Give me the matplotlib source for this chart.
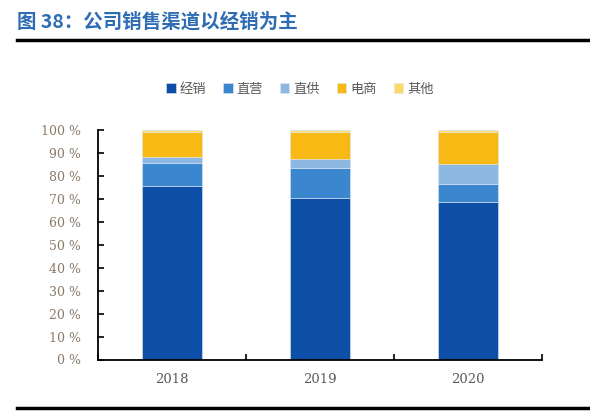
import matplotlib

matplotlib.use("Agg")
import matplotlib.pyplot as plt
import numpy as np

plt.rcParams["font.family"] = ["Noto Sans CJK SC", "DejaVu Sans"]

years = ["2018", "2019", "2020"]
channels = ["经销", "直营", "直供", "电商", "其他"]
jingxiao = [75.5, 70.4, 68.6]
zhiying = [10.1, 12.8, 7.8]
zhigong = [2.5, 4.0, 8.8]
dianshang = [10.8, 11.7, 13.7]
qita = [1.1, 1.1, 1.1]
series = [jingxiao, zhiying, zhigong, dianshang, qita]
colors = ["#0D4EA6", "#3A87D0", "#8DB8E2", "#F9B914", "#FFD966"]
yticks = list(range(0, 101, 10))

fig = plt.figure(figsize=(5.9, 4.16), dpi=100)
ax = fig.add_axes([98 / 590, 1 - 359.5 / 416, 444 / 590, 229.8 / 416])

x = np.arange(len(years))
bottom = np.zeros(len(years))
for name, vals, c in zip(channels, series, colors):
    ax.bar(x, vals, 0.41, bottom=bottom, color=c, label=name,
           edgecolor="#DCE6F2", linewidth=0.4)
    bottom += np.array(vals)

ax.set_xlim(-0.5, len(years) - 0.5)
ax.set_ylim(0, 100)
ax.set_yticks(yticks)
ax.set_yticklabels([f"{v} %" for v in yticks], family="DejaVu Serif",
                   fontsize=9, color="#8A7A6A")
ax.set_xticks(x)
ax.set_xticklabels(years, family="DejaVu Serif", fontsize=9.5, color="#595959")
ax.set_xticks(np.arange(-0.5, len(years)), minor=True)
ax.tick_params(axis="y", direction="in", length=4, width=1.2, pad=12)
ax.tick_params(axis="x", which="major", length=0, pad=10)
ax.tick_params(axis="x", which="minor", direction="in", length=4, width=1.2)
for s in ["top", "right"]:
    ax.spines[s].set_visible(False)
ax.spines["left"].set_linewidth(1.3)
ax.spines["bottom"].set_linewidth(1.3)

handles, labels = ax.get_legend_handles_labels()
fig.legend(handles, labels, loc="center", bbox_to_anchor=(300 / 590, 1 - 89 / 416),
           ncol=5, frameon=False, fontsize=9.5, handlelength=0.7, handleheight=0.7,
           handletextpad=0.3, columnspacing=1.3, labelcolor="#595959")

fig.text(17 / 590, 1 - 22 / 416, "图 38：公司销售渠道以经销为主", fontsize=14,
         fontweight="bold", color="#2E6DB4", va="center", ha="left")
fig.add_artist(plt.Line2D([17 / 590, 1], [1 - 40 / 416] * 2, color="black", lw=2.5))
fig.add_artist(plt.Line2D([17 / 590, 1], [1 - 408 / 416] * 2, color="black", lw=2.5))

fig.savefig("out.png", dpi=100)
